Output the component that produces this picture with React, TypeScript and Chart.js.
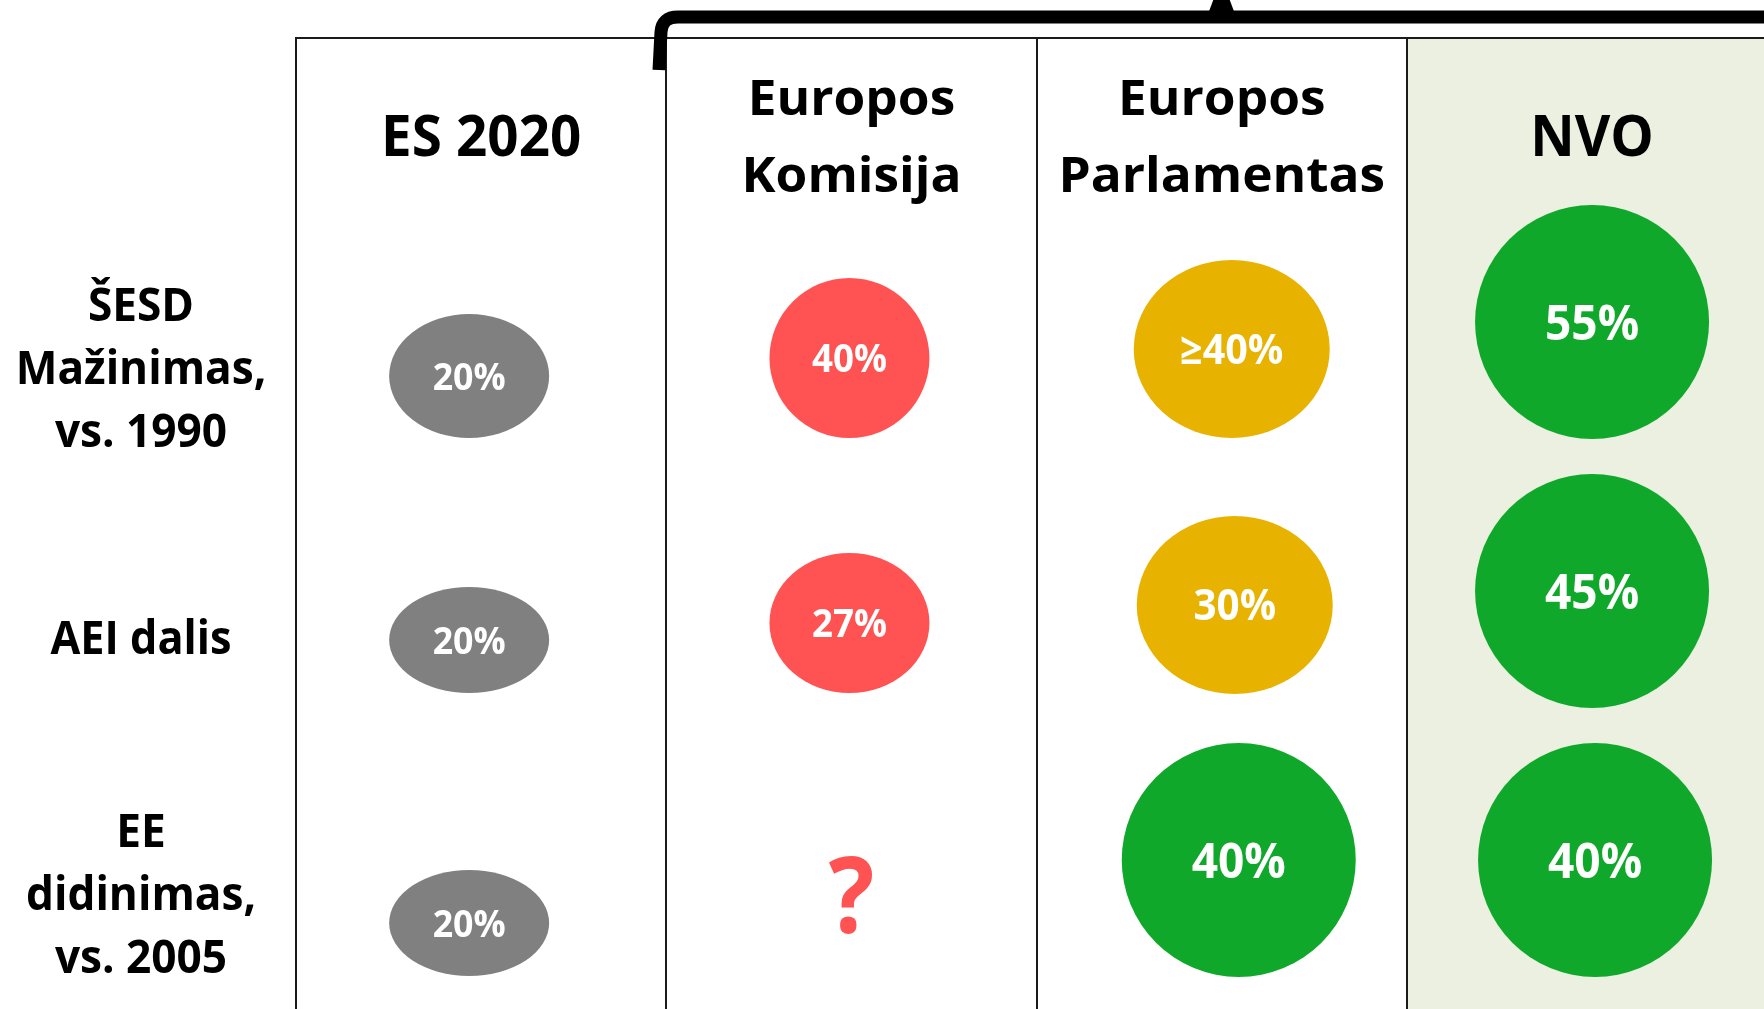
import React, { useEffect, useRef } from 'react';
import { Chart, registerables } from 'chart.js';

Chart.register(...registerables);

// ---------- DATA ----------
const columnHeaders: string[][] = [['ES 2020'], ['Europos', 'Komisija'], ['Europos', 'Parlamentas'], ['NVO']];
const rowLabels: string[][] = [['ŠESD', 'Mažinimas,', 'vs. 1990'], ['AEI dalis'], ['EE', 'didinimas,', 'vs. 2005']];

const es2020Values = ['20%', '20%', '20%'];
const komisijaValues = ['40%', '27%', '?'];
const parlamentasValues = ['≥40%', '30%', '40%'];
const nvoValues = ['55%', '45%', '40%'];

// ambition level: 0 = baseline, 1 = low, 2 = medium, 3 = high
const es2020Levels = [0, 0, 0];
const komisijaLevels = [1, 1, 1];
const parlamentasLevels = [2, 2, 3];
const nvoLevels = [3, 3, 3];

// ---------- STYLE / LAYOUT ----------
const W = 1764;
const H = 1009;
const FONT = '"Open Sans", "DejaVu Sans", sans-serif';
const levelColors = ['#808080', '#FF5353', '#E8B200', '#10A82A'];
const nvoBackground = '#EBF0E0';

// scale geometry (pixel anchors)
const COL_LEFT = 296;
const COL_W = 370.3;
const ROW0 = 368;
const ROW_H = 263;
const TABLE_TOP = 38;

// per-cell mark shape: [rx, ry, dx, dy, fontSize]
const cellShapes: number[][][] = [
  [[80, 62, -12, 8, 38], [80, 53, -12, 9, 38], [80, 53, -12, 29, 38]],
  [[80, 80, -2, -10, 39], [80, 70, -2, -8, 39], [0, 0, 0, 0, 106]],
  [[98, 89, 10, -19, 42], [98, 89, 13, -26, 43], [117, 117, 17, -34, 49]],
  [[117, 117, 0, -46, 49], [117, 117, 0, -40, 49], [117, 117, 3, -34, 49]],
];

const columnValues = [es2020Values, komisijaValues, parlamentasValues, nvoValues];
const columnLevels = [es2020Levels, komisijaLevels, parlamentasLevels, nvoLevels];

function squeezedText(ctx: CanvasRenderingContext2D, text: string, x: number, y: number, sx: number) {
  ctx.save();
  ctx.translate(x, y);
  ctx.scale(sx, 1);
  ctx.fillText(text, 0, 0);
  ctx.restore();
}

const tablePlugin = {
  id: 'tableDecor',
  beforeDatasetsDraw(chart: any) {
    const ctx = chart.ctx as CanvasRenderingContext2D;
    const xs = chart.scales.x;
    const ys = chart.scales.y;
    const colX = (i: number) => xs.getPixelForValue(i);
    ctx.save();
    // NVO background
    ctx.fillStyle = nvoBackground;
    ctx.fillRect(colX(3), TABLE_TOP, W - colX(3) + 10, H - TABLE_TOP + 10);
    // grid lines
    ctx.strokeStyle = '#1a1a1a';
    ctx.lineWidth = 2;
    ctx.beginPath();
    ctx.moveTo(colX(0) - 1, TABLE_TOP);
    ctx.lineTo(W + 5, TABLE_TOP);
    for (let i = 0; i < 4; i++) {
      const x = Math.round(colX(i));
      ctx.moveTo(x, TABLE_TOP);
      ctx.lineTo(x, H + 5);
    }
    ctx.stroke();

    // brace
    ctx.strokeStyle = '#000';
    ctx.lineWidth = 13;
    ctx.lineJoin = 'round';
    ctx.beginPath();
    ctx.moveTo(659, 70);
    ctx.lineTo(661, 32);
    ctx.quadraticCurveTo(662, 17, 678, 17);
    ctx.lineTo(W + 10, 17);
    ctx.stroke();
    ctx.fillStyle = '#000';
    ctx.beginPath();
    ctx.moveTo(1205, 22);
    ctx.lineTo(1214, -2);
    ctx.lineTo(1229, -2);
    ctx.lineTo(1238, 22);
    ctx.closePath();
    ctx.fill();

    // headers
    ctx.fillStyle = '#000';
    ctx.textAlign = 'center';
    ctx.textBaseline = 'alphabetic';
    columnHeaders.forEach((lines, i) => {
      const cx = colX(i + 0.5);
      if (lines.length === 1) {
        ctx.font = `bold 57px ${FONT}`;
        squeezedText(ctx, lines[0], cx, 156, 0.96);
      } else {
        ctx.font = `bold 48px ${FONT}`;
        squeezedText(ctx, lines[0], cx, 115, 1.07);
        squeezedText(ctx, lines[1], cx, 192, 1.07);
      }
    });

    // row labels
    ctx.font = `bold 47px ${FONT}`;
    rowLabels.forEach((lines, r) => {
      const cy = ys.getPixelForValue(r);
      const n = lines.length;
      if (n === 1) {
        squeezedText(ctx, lines[0], 141, cy + 23, 0.92);
        return;
      }
      lines.forEach((line, k) => {
        const y = cy + (k - (n - 1) / 2) * 63 + 16;
        squeezedText(ctx, line, 141, y, 0.94);
      });
    });
    ctx.restore();
  },
  afterDatasetsDraw(chart: any) {
    const ctx = chart.ctx as CanvasRenderingContext2D;
    ctx.save();
    chart.data.datasets.forEach((ds: any, c: number) => {
      const meta = chart.getDatasetMeta(c);
      meta.data.forEach((pt: any, r: number) => {
        const [rx, ry, dx, dy, fs] = cellShapes[c][r];
        const x = pt.x + dx;
        const y = pt.y + dy;
        const label = columnValues[c][r];
        const color = levelColors[columnLevels[c][r]];
        ctx.textAlign = 'center';
        ctx.textBaseline = 'alphabetic';
        ctx.font = `bold ${fs}px ${FONT}`;
        if (rx === 0) {
          ctx.fillStyle = color;
          squeezedText(ctx, label, x, y + fs * 0.37, 0.9);
          return;
        }
        ctx.fillStyle = color;
        ctx.beginPath();
        ctx.ellipse(x, y, rx, ry, 0, 0, Math.PI * 2);
        ctx.fill();
        ctx.fillStyle = '#fff';
        squeezedText(ctx, label, x, y + fs * 0.36, 0.94);
      });
    });
    ctx.restore();
  },
};

export default function App() {
  const ref = useRef<HTMLCanvasElement | null>(null);
  useEffect(() => {
    if (!ref.current) return;
    const names = ['ES 2020', 'Europos Komisija', 'Europos Parlamentas', 'NVO'];
    const chart = new Chart(ref.current, {
      type: 'scatter',
      data: {
        datasets: columnValues.map((vals, c) => ({
          label: names[c],
          data: vals.map((_, r) => ({ x: c + 0.5, y: r })),
          pointRadius: 0,
          pointHoverRadius: 0,
        })),
      },
      options: {
        animation: false,
        responsive: false,
        events: [],
        layout: { padding: 0 },
        plugins: { legend: { display: false }, tooltip: { enabled: false } },
        scales: {
          x: { type: 'linear', display: false, min: -COL_LEFT / COL_W, max: (W - COL_LEFT) / COL_W },
          y: { type: 'linear', display: false, reverse: true, min: -ROW0 / ROW_H, max: (H - ROW0) / ROW_H },
        },
      },
      plugins: [tablePlugin],
    });
    return () => chart.destroy();
  }, []);
  return (
    <div style={{ position: 'fixed', left: 0, top: 0, width: W, height: H, background: '#fff' }}>
      <canvas ref={ref} width={W} height={H} style={{ display: 'block' }} />
    </div>
  );
}
